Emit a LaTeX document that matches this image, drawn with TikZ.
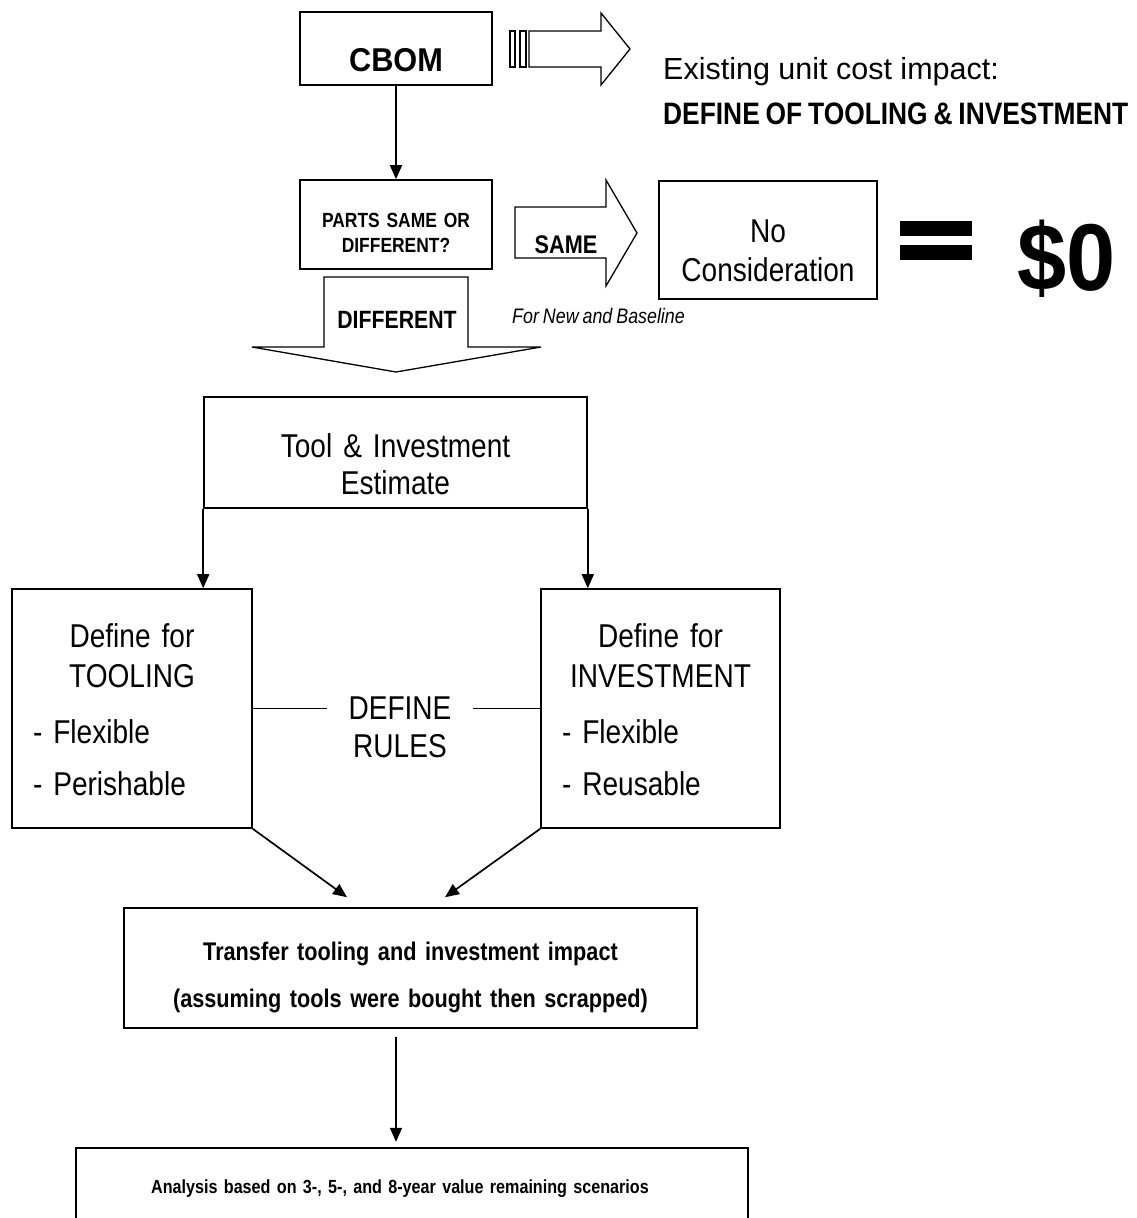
\documentclass[tikz,border=0pt]{standalone}
\usepackage{fontspec}
\setmainfont{Liberation Sans}
\newfontfamily\nar{Liberation Sans}[FakeStretch=0.85,WordSpace=0.8]
\newfontfamily\semi{Liberation Sans}[FakeStretch=0.93]
\usetikzlibrary{arrows.meta}
\newcommand\fsz[2]{\fontsize{#1pt}{#2pt}\selectfont}
\begin{document}
\begin{tikzpicture}[x=1pt,y=-1pt,
  box/.style={draw, line width=1.6pt, inner sep=0pt},
  conn/.style={line width=1.7pt, -{Triangle[length=14pt,width=12pt]}},
  plain/.style={line width=1.6pt},
  blk/.style={draw, line width=1.3pt, line join=miter, fill=white},
  lbl/.style={inner sep=0pt}]
\useasboundingbox (0,0) rectangle (1136,1218);

% ---- boxes
\node[box, minimum width=192pt, minimum height=73pt, text height=45pt, text depth=0pt,
      font=\semi\fsz{33}{40}\bfseries] (cbom) at (396,48.5) {CBOM};
\node[box, minimum width=192pt, minimum height=89pt, text width=180pt, align=center,
      text height=5pt, text depth=0pt, font=\nar\fsz{20.5}{25}\bfseries] (parts) at (396,224.5)
      {PARTS SAME OR\\DIFFERENT?};
\node[box, minimum width=218pt, minimum height=118pt, text width=200pt, align=center,
      text height=4pt, text depth=0pt, font=\nar\fsz{33}{39}] (nocons) at (768,240)
      {No\\Consideration};
\node[box, minimum width=383pt, minimum height=111pt, text width=360pt, align=center,
      text height=9pt, text depth=0pt, font=\nar\fsz{33}{37}] (tool) at (395.5,452.5)
      {Tool \& Investment\\Estimate};
\node[box, minimum width=240pt, minimum height=239pt, text width=198pt, align=left,
      text height=0pt, text depth=123pt, font=\nar\fsz{33}{40}] (deftool) at (132,708.5)
      {\makebox[198pt]{Define for}\\\makebox[198pt]{TOOLING}\\[16pt]- Flexible\\[12pt]- Perishable};
\node[box, minimum width=239pt, minimum height=239pt, text width=197pt, align=left,
      text height=0pt, text depth=123pt, font=\nar\fsz{33}{40}] (definv) at (660.5,708.5)
      {\makebox[197pt]{Define for}\\\makebox[197pt]{INVESTMENT}\\[16pt]- Flexible\\[12pt]- Reusable};
\node[anchor=base, text width=110pt, align=center, inner xsep=18pt, inner ysep=0pt,
      font=\nar\fsz{33}{38}] (rules) at (400,719) {DEFINE\\RULES};
\node[box, minimum width=573pt, minimum height=120pt, text width=560pt, align=center,
      text height=0pt, text depth=16pt, font=\nar\fsz{25.5}{47}\bfseries] (transfer) at (410.5,968)
      {Transfer tooling and investment impact\\(assuming tools were bought then scrapped)};
\node[inner sep=0pt, minimum width=672pt, minimum height=90pt, text width=650pt, align=center,
      text height=0pt, text depth=0pt, font=\nar\fsz{19}{23}\bfseries] (analysis) at (412,1193)
      {\hspace*{-24pt}Analysis based on 3-, 5-, and 8-year value remaining scenarios};
\coordinate (pagebottom) at (0,1218);
\draw[line width=1.6pt] (analysis.north west |- pagebottom) -- (analysis.north west)
   -- (analysis.north east) -- (analysis.north east |- pagebottom);

% ---- free texts
\node[lbl, anchor=base west, font=\fsz{30.5}{37}] (exist) at (663,79) {Existing unit cost impact:};
\node[lbl, anchor=base west, font=\nar\fsz{31}{37}\bfseries] (defti) at (663,124) {DEFINE OF TOOLING \& INVESTMENT};
\node[lbl, anchor=base west, font=\nar\fsz{21}{25}\itshape] (fornew) at (512,323) {For New and Baseline};
\node[lbl, anchor=base west, font=\semi\fsz{95}{100}\bfseries] (zero) at (1017,290) {\$0};

% ---- equals sign
\fill (900,221) rectangle (972,236);
\fill (900,245) rectangle (972,260);

% ---- striped block arrow (top)
\draw[blk] (510,31) rectangle (515,67);
\draw[blk] (520,31) rectangle (526,67);
\draw[blk] (529,31) -- (601,31) -- (601,13) -- (630,49) -- (601,85) -- (601,67) -- (529,67) -- cycle;

% ---- SAME block arrow
\draw[blk] (515,207) -- (606,207) -- (606,180) -- (637,233) -- (606,286) -- (606,258) -- (515,258) -- cycle;
\node[lbl, anchor=base, font=\nar\fsz{25.5}{30}\bfseries] (same) at (566,253) {SAME};

% ---- DIFFERENT block arrow
\draw[blk] (324,277) -- (468,277) -- (468,347) -- (541,347) -- (396,372) -- (252,347) -- (324,347) -- cycle;
\node[lbl, anchor=base, font=\nar\fsz{25}{30}\bfseries] (diff) at (397,328) {DIFFERENT};

% ---- connectors
\draw[conn] (cbom) -- (parts);
\draw[conn] (tool.south west) -- (tool.south west |- deftool.north);
\draw[conn] (tool.south east) -- (tool.south east |- definv.north);
\draw[plain] (deftool.east) -- (deftool.east -| rules.west);
\draw[plain] (rules.east |- definv.west) -- (definv.west);
\draw[conn] (deftool.south east) -- ([xshift=-63.5pt,yshift=10pt]transfer.north);
\draw[conn] (definv.south west) -- ([xshift=34.5pt,yshift=10pt]transfer.north);
\draw[conn] ([xshift=-14.5pt,yshift=-8pt]transfer.south) -- ([xshift=-16pt,yshift=6pt]analysis.north);
\end{tikzpicture}
\end{document}
